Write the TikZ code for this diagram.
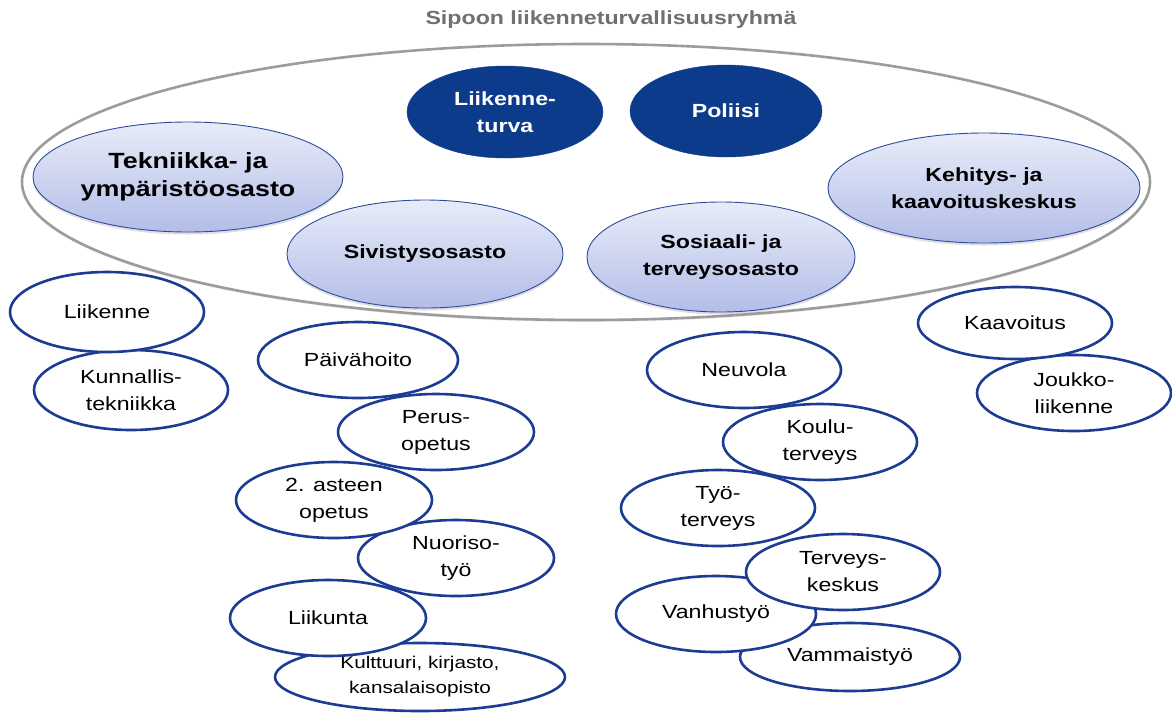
\documentclass[tikz,border=0pt]{standalone}
\usepackage{fontspec}
\setmainfont{Liberation Sans}[FakeStretch=1.22]
\usetikzlibrary{shapes.geometric,shadows}
\definecolor{navy}{HTML}{0D3B8C}
\definecolor{edgeblue}{HTML}{1B3C92}
\definecolor{lighttop}{HTML}{E8ECF8}
\definecolor{lightbot}{HTML}{B3BDE8}
\definecolor{thinborder}{HTML}{2E4C9C}
\definecolor{groupgray}{HTML}{9C9C9C}
\definecolor{titlegray}{HTML}{707070}
\tikzset{
  oval/.style={ellipse, inner sep=0pt, align=center},
  dept/.style={oval, draw=thinborder, line width=0.9pt, top color=lighttop, bottom color=lightbot,
    font=\fontsize{19}{27}\selectfont\bfseries, text=black,
    drop shadow={opacity=0.25, shadow xshift=0pt, shadow yshift=-2.5pt}},
  ext/.style={oval, draw=navy, fill=navy, font=\fontsize{19}{27}\selectfont\bfseries, text=white},
  unit/.style={oval, draw=edgeblue, fill=white, line width=2.6pt, font=\fontsize{19}{27}\selectfont, text=black},
}
\begin{document}
\begin{tikzpicture}[x=1pt,y=-1pt]
\useasboundingbox (0,0) rectangle (1172,716);
% title
\node[font=\fontsize{19}{22}\selectfont\bfseries, text=titlegray] (title) at (611,20) {Sipoon liikenneturvallisuusryhmä};
% group ellipse
\node[ellipse, draw=groupgray, line width=2.6pt, minimum width=1128pt, minimum height=276pt, inner sep=0pt,
  drop shadow={opacity=0.15, shadow xshift=0pt, shadow yshift=-2pt}, fill=white] (group) at (586,182) {};
% members
\node[ext, minimum width=196pt, minimum height=92pt] (lt) at (505,112) {Liikenne-\\turva};
\node[ext, minimum width=192pt, minimum height=92pt] (pol) at (726,111) {Poliisi};
\node[dept, minimum width=310pt, minimum height=110pt, font=\fontsize{22}{28}\selectfont\bfseries] (tek) at (188,177) {Tekniikka- ja\\ympäristöosasto};
\node[dept, minimum width=276pt, minimum height=108pt] (siv) at (425,254) {Sivistysosasto};
\node[dept, minimum width=268pt, minimum height=110pt] (sos) at (721,257) {Sosiaali- ja\\terveysosasto};
\node[dept, minimum width=312pt, minimum height=110pt] (keh) at (984,188) {Kehitys- ja\\kaavoituskeskus};
% units (drawn bottom-first so upper ones lie on top)
\node[unit, minimum width=194pt, minimum height=80pt] (kunn) at (131,390) {Kunnallis-\\tekniikka};
\node[unit, minimum width=194pt, minimum height=80pt] (liik) at (107,312) {Liikenne};
\node[unit, minimum width=290pt, minimum height=68pt, font=\fontsize{17}{25}\selectfont] (kult) at (420,677) {Kulttuuri, kirjasto,\\kansalaisopisto};
\node[unit, minimum width=196pt, minimum height=76pt] (liiku) at (328,618) {Liikunta};
\node[unit, minimum width=196pt, minimum height=76pt] (nuor) at (456,558) {Nuoriso-\\työ};
\node[unit, minimum width=196pt, minimum height=76pt] (ast) at (334,500) {2. asteen\\opetus};
\node[unit, minimum width=196pt, minimum height=76pt] (perus) at (436,432) {Perus-\\opetus};
\node[unit, minimum width=200pt, minimum height=76pt] (paiv) at (358,360) {Päivähoito};
\node[unit, minimum width=220pt, minimum height=68pt] (vamm) at (850,657) {Vammaistyö};
\node[unit, minimum width=200pt, minimum height=76pt] (vanh) at (716,614) {Vanhustyö};
\node[unit, minimum width=194pt, minimum height=76pt] (terk) at (843,572) {Terveys-\\keskus};
\node[unit, minimum width=194pt, minimum height=76pt] (tyot) at (718,508) {Työ-\\terveys};
\node[unit, minimum width=194pt, minimum height=76pt] (koul) at (820,442) {Koulu-\\terveys};
\node[unit, minimum width=194pt, minimum height=76pt] (neuv) at (744,370) {Neuvola};
\node[unit, minimum width=194pt, minimum height=76pt] (jouk) at (1074,393) {Joukko-\\liikenne};
\node[unit, minimum width=194pt, minimum height=72pt] (kaav) at (1015,323) {Kaavoitus};
\end{tikzpicture}
\end{document}
